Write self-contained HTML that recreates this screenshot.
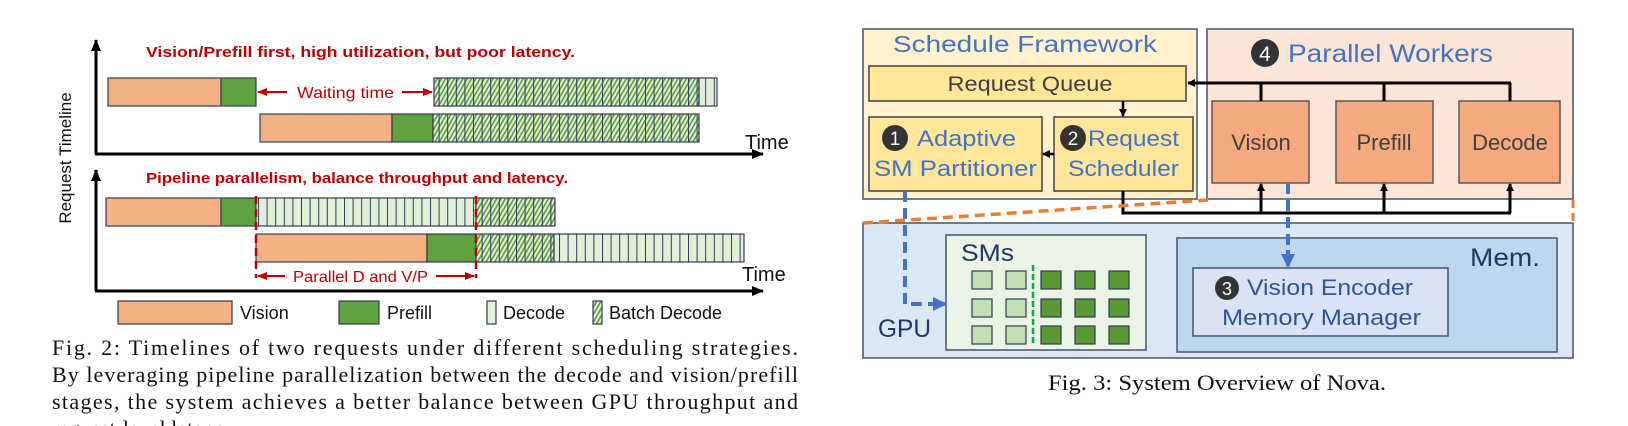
<!DOCTYPE html>
<html><head><meta charset="utf-8"><style>
html,body{margin:0;padding:0;background:#fff;}
svg{display:block;}
text{font-family:"Liberation Sans",sans-serif;}
.cap{font-family:"Liberation Serif",serif;font-size:22px;fill:#111;}
.red{fill:#c00000;font-weight:bold;font-size:15px;}
.blue{fill:#4472c4;}
.dk{fill:#404040;}
.nv{fill:#1f3864;}
</style></head><body>
<svg width="1628" height="426" viewBox="0 0 1628 426" xmlns="http://www.w3.org/2000/svg">
<defs>
<pattern id="cells" width="8.6" height="50" patternUnits="userSpaceOnUse">
<line x1="0.5" y1="0" x2="0.5" y2="50" stroke="#2f3b55" stroke-width="1"/>
</pattern>
<pattern id="hatch" width="4.3" height="8" patternUnits="userSpaceOnUse" patternTransform="skewX(-30)">
<rect width="4.3" height="8" fill="#e2f0d9"/>
<rect width="1.8" height="8" fill="#5b9a3a"/>
</pattern>
<marker id="ab" markerWidth="8" markerHeight="8" refX="7" refY="4" orient="auto" markerUnits="userSpaceOnUse"><path d="M0,0 L8,4 L0,8z" fill="#000"/></marker>
<marker id="ar" markerWidth="10" markerHeight="10" refX="9" refY="5" orient="auto" markerUnits="userSpaceOnUse"><path d="M0,1 L10,5 L0,9z" fill="#c00000"/></marker>
<marker id="abl" markerWidth="14" markerHeight="14" refX="12" refY="7" orient="auto" markerUnits="userSpaceOnUse"><path d="M0,0 L14,7 L0,14z" fill="#4472c4"/></marker>
<marker id="ak" markerWidth="12" markerHeight="12" refX="11" refY="6" orient="auto" markerUnits="userSpaceOnUse"><path d="M0,1 L12,6 L0,11z" fill="#000"/></marker>
</defs>

<!-- LEFT FIGURE -->
<text transform="translate(71,158) rotate(-90)" text-anchor="middle" font-size="17" fill="#111">Request Timeline</text>
<line x1="96" y1="154" x2="96" y2="40" stroke="#000" stroke-width="3" marker-end="url(#ak)"/>
<line x1="95" y1="154" x2="763" y2="154" stroke="#000" stroke-width="3" marker-end="url(#ak)"/>
<line x1="96" y1="291" x2="96" y2="170" stroke="#000" stroke-width="3" marker-end="url(#ak)"/>
<line x1="95" y1="291" x2="763" y2="291" stroke="#000" stroke-width="3" marker-end="url(#ak)"/>
<text x="745" y="149" font-size="20" fill="#111">Time</text>
<text x="742" y="281" font-size="20" fill="#111">Time</text>

<text x="146" y="57" class="red" textLength="429" lengthAdjust="spacingAndGlyphs">Vision/Prefill first, high utilization, but poor latency.</text>
<text x="146" y="183" class="red" textLength="422" lengthAdjust="spacingAndGlyphs">Pipeline parallelism, balance throughput and latency.</text>

<g stroke="#2f3b55" stroke-width="1.2">
<!-- row1 -->
<rect x="108" y="78" width="113" height="28" fill="#f4b183"/>
<rect x="221" y="78" width="35" height="28" fill="#5fa33e"/>
<rect x="434" y="78" width="265" height="28" fill="url(#hatch)"/>
<rect x="699" y="78" width="18" height="28" fill="#e2f0d9"/>
<!-- row2 -->
<rect x="260" y="114" width="132" height="28" fill="#f4b183"/>
<rect x="392" y="114" width="41" height="28" fill="#5fa33e"/>
<rect x="433" y="114" width="266" height="28" fill="url(#hatch)"/>
<!-- row3 -->
<rect x="106" y="198" width="115" height="28" fill="#f4b183"/>
<rect x="221" y="198" width="35" height="28" fill="#5fa33e"/>
<rect x="256" y="198" width="220" height="28" fill="#e2f0d9"/>
<rect x="476" y="198" width="79" height="28" fill="url(#hatch)"/>
<!-- row4 -->
<rect x="256" y="234" width="171" height="28" fill="#f4b183"/>
<rect x="427" y="234" width="49" height="28" fill="#5fa33e"/>
<rect x="476" y="234" width="78" height="28" fill="url(#hatch)"/>
<rect x="554" y="234" width="190" height="28" fill="#e2f0d9"/>
</g>
<g fill="url(#cells)">
<rect x="434" y="78" width="283" height="28"/>
<rect x="433" y="114" width="266" height="28"/>
<rect x="256" y="198" width="299" height="28"/>
<rect x="476" y="234" width="268" height="28"/>
</g>

<!-- waiting time -->
<line x1="287" y1="92" x2="258" y2="92" stroke="#c00000" stroke-width="2" marker-end="url(#ar)"/>
<text x="297" y="98" fill="#c00000" font-size="16" textLength="97" lengthAdjust="spacingAndGlyphs">Waiting time</text>
<line x1="402" y1="92" x2="432" y2="92" stroke="#c00000" stroke-width="2" marker-end="url(#ar)"/>
<!-- red dashed -->
<line x1="256" y1="196" x2="256" y2="278" stroke="#c00000" stroke-width="2.5" stroke-dasharray="8 5"/>
<line x1="476" y1="196" x2="476" y2="278" stroke="#c00000" stroke-width="2.5" stroke-dasharray="8 5"/>
<line x1="285" y1="276" x2="258" y2="276" stroke="#c00000" stroke-width="2" marker-end="url(#ar)"/>
<text x="293" y="282" fill="#c00000" font-size="16" textLength="135" lengthAdjust="spacingAndGlyphs">Parallel D and V/P</text>
<line x1="436" y1="276" x2="474" y2="276" stroke="#c00000" stroke-width="2" marker-end="url(#ar)"/>

<!-- legend -->
<rect x="118" y="301" width="114" height="23" fill="#f4b183" stroke="#2f3b55" stroke-width="1.2"/>
<text x="240" y="319" font-size="18" fill="#111">Vision</text>
<rect x="339" y="301" width="40" height="23" fill="#5fa33e" stroke="#2f3b55" stroke-width="1.2"/>
<text x="387" y="319" font-size="18" fill="#111">Prefill</text>
<rect x="487" y="301" width="9" height="23" fill="#e2f0d9" stroke="#2f3b55" stroke-width="1.2"/>
<text x="503" y="319" font-size="18" fill="#111">Decode</text>
<rect x="593" y="301" width="9" height="23" fill="url(#hatch)" stroke="#2f3b55" stroke-width="1.2"/>
<text x="609" y="319" font-size="18" fill="#111">Batch Decode</text>

<!-- caption left -->
<text class="cap" x="52" y="355" textLength="746" lengthAdjust="spacing">Fig. 2: Timelines of two requests under different scheduling strategies.</text>
<text class="cap" x="52" y="382" textLength="746" lengthAdjust="spacing">By leveraging pipeline parallelization between the decode and vision/prefill</text>
<text class="cap" x="52" y="409" textLength="746" lengthAdjust="spacing">stages, the system achieves a better balance between GPU throughput and</text>
<text class="cap" x="52" y="436">request-level latency.</text>

<!-- RIGHT FIGURE -->
<rect x="863" y="29" width="334" height="170" fill="#fff2cc" stroke="#44546a" stroke-width="1.5"/>
<rect x="1207" y="29" width="366" height="170" fill="#fbe5d6" stroke="#44546a" stroke-width="1.5"/>
<rect x="863" y="223" width="710" height="135" fill="#dae8f5" stroke="#44546a" stroke-width="1.5"/>

<text x="893" y="52" font-size="23" class="blue" textLength="264" lengthAdjust="spacingAndGlyphs">Schedule Framework</text>
<rect x="869" y="66" width="317" height="35" fill="#ffe699" stroke="#404040" stroke-width="1.5"/>
<text x="1030" y="91" font-size="21" class="dk" text-anchor="middle" textLength="165" lengthAdjust="spacingAndGlyphs">Request Queue</text>
<rect x="869" y="117" width="173" height="74" fill="#ffe699" stroke="#404040" stroke-width="1.5"/>
<rect x="1054" y="117" width="139" height="74" fill="#ffe699" stroke="#404040" stroke-width="1.5"/>
<circle cx="895" cy="138" r="13" fill="#333"/><text x="895" y="145" font-size="19" fill="#fff" text-anchor="middle">1</text>
<text x="917" y="146" font-size="22" class="blue" textLength="99" lengthAdjust="spacingAndGlyphs">Adaptive</text>
<text x="874" y="176" font-size="22" class="blue" textLength="163" lengthAdjust="spacingAndGlyphs">SM Partitioner</text>
<circle cx="1073" cy="138" r="13" fill="#333"/><text x="1073" y="145" font-size="19" fill="#fff" text-anchor="middle">2</text>
<text x="1088" y="146" font-size="22" class="blue" textLength="91" lengthAdjust="spacingAndGlyphs">Request</text>
<text x="1068" y="176" font-size="22" class="blue" textLength="111" lengthAdjust="spacingAndGlyphs">Scheduler</text>
<line x1="1123" y1="101" x2="1123" y2="116" stroke="#000" stroke-width="2.5" marker-end="url(#ab)"/>
<line x1="1054" y1="154" x2="1043" y2="154" stroke="#000" stroke-width="2.5" marker-end="url(#ab)"/>

<circle cx="1265" cy="53" r="14" fill="#333"/><text x="1265" y="61" font-size="21" fill="#fff" text-anchor="middle">4</text>
<text x="1288" y="62" font-size="25" class="blue" textLength="205" lengthAdjust="spacingAndGlyphs">Parallel Workers</text>
<g fill="#f4a97e" stroke="#595959" stroke-width="1.5">
<rect x="1212" y="101" width="97" height="82"/>
<rect x="1336" y="101" width="97" height="82"/>
<rect x="1459" y="101" width="101" height="82"/>
</g>
<text x="1261" y="150" font-size="22" class="dk" text-anchor="middle">Vision</text>
<text x="1384" y="150" font-size="22" class="dk" text-anchor="middle">Prefill</text>
<text x="1510" y="150" font-size="22" class="dk" text-anchor="middle">Decode</text>
<path d="M1261,101 V83 M1384,101 V83 M1510,101 V83" stroke="#000" stroke-width="3"/>
<line x1="1511" y1="83" x2="1188" y2="83" stroke="#000" stroke-width="3" marker-end="url(#ab)"/>
<path d="M1123,191 V213 H1511" stroke="#000" stroke-width="3" fill="none"/>
<line x1="1261" y1="213" x2="1261" y2="184" stroke="#000" stroke-width="3" marker-end="url(#ab)"/>
<line x1="1384" y1="213" x2="1384" y2="184" stroke="#000" stroke-width="3" marker-end="url(#ab)"/>
<line x1="1510" y1="213" x2="1510" y2="184" stroke="#000" stroke-width="3" marker-end="url(#ab)"/>

<!-- orange dashed -->
<line x1="863" y1="223" x2="1208" y2="200" stroke="#ed7d31" stroke-width="3.5" stroke-dasharray="10 6"/>
<line x1="1573" y1="200" x2="1573" y2="223" stroke="#ed7d31" stroke-width="3" stroke-dasharray="8 5"/>

<!-- GPU content -->
<text x="878" y="337" font-size="25" class="nv" textLength="53" lengthAdjust="spacingAndGlyphs">GPU</text>
<rect x="946" y="235" width="200" height="115" fill="#ebf3e5" stroke="#44546a" stroke-width="1.5"/>
<text x="961" y="261" font-size="24" class="nv" textLength="53" lengthAdjust="spacingAndGlyphs">SMs</text>
<g stroke="#2f3b55" stroke-width="1.2">
<rect x="972" y="271" width="20" height="18" fill="#c5e0b4"/><rect x="1006" y="271" width="20" height="18" fill="#c5e0b4"/>
<rect x="1041" y="271" width="20" height="18" fill="#5a9a34"/><rect x="1075" y="271" width="20" height="18" fill="#5a9a34"/><rect x="1109" y="271" width="20" height="18" fill="#5a9a34"/>
<rect x="972" y="299" width="20" height="18" fill="#c5e0b4"/><rect x="1006" y="299" width="20" height="18" fill="#c5e0b4"/>
<rect x="1041" y="299" width="20" height="18" fill="#5a9a34"/><rect x="1075" y="299" width="20" height="18" fill="#5a9a34"/><rect x="1109" y="299" width="20" height="18" fill="#5a9a34"/>
<rect x="972" y="326" width="20" height="18" fill="#c5e0b4"/><rect x="1006" y="326" width="20" height="18" fill="#c5e0b4"/>
<rect x="1041" y="326" width="20" height="18" fill="#5a9a34"/><rect x="1075" y="326" width="20" height="18" fill="#5a9a34"/><rect x="1109" y="326" width="20" height="18" fill="#5a9a34"/>
</g>
<line x1="1033" y1="265" x2="1033" y2="346" stroke="#00b050" stroke-width="2.5" stroke-dasharray="6 3"/>

<rect x="1177" y="238" width="380" height="114" fill="#bdd7ee" stroke="#44546a" stroke-width="1.5"/>
<text x="1470" y="266" font-size="25" class="nv" textLength="70" lengthAdjust="spacingAndGlyphs">Mem.</text>
<rect x="1193" y="268" width="255" height="68" fill="#dae3f3" stroke="#44546a" stroke-width="1.5"/>
<circle cx="1227" cy="288" r="12" fill="#333"/><text x="1227" y="295" font-size="18" fill="#fff" text-anchor="middle">3</text>
<text x="1247" y="295" font-size="22" fill="#2f5597" textLength="166" lengthAdjust="spacingAndGlyphs">Vision Encoder</text>
<text x="1222" y="325" font-size="22" fill="#2f5597" textLength="199" lengthAdjust="spacingAndGlyphs">Memory Manager</text>

<!-- blue dashed -->
<path d="M905,191 V304 H932" stroke="#4472c4" stroke-width="4" stroke-dasharray="11 6" fill="none"/>
<line x1="932" y1="304" x2="945" y2="304" stroke="#4472c4" stroke-width="4" marker-end="url(#abl)"/>
<line x1="1288" y1="183" x2="1288" y2="254" stroke="#4472c4" stroke-width="4" stroke-dasharray="11 6"/>
<line x1="1288" y1="250" x2="1288" y2="266" stroke="#4472c4" stroke-width="4" marker-end="url(#abl)"/>

<text class="cap" x="1048" y="390" textLength="338" lengthAdjust="spacingAndGlyphs">Fig. 3: System Overview of Nova.</text>
</svg>
</body></html>
